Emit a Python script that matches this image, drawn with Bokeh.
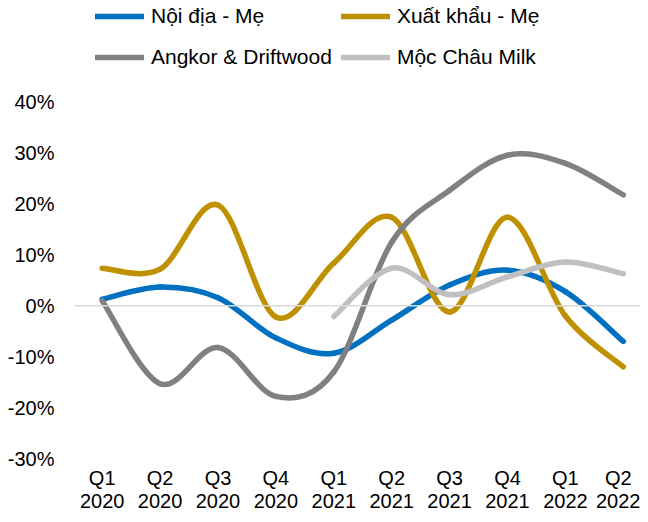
import numpy as np
from bokeh.plotting import figure
from bokeh.models import Legend, LegendItem, FixedTicker, Span, PrintfTickFormatter, ColumnDataSource
from bokeh.embed import file_html
from bokeh.resources import INLINE

# ---- data (percent) ----
quarters = ["Q1\n2020", "Q2\n2020", "Q3\n2020", "Q4\n2020", "Q1\n2021",
            "Q2\n2021", "Q3\n2021", "Q4\n2021", "Q1\n2022", "Q2\n2022"]
noi_dia = [1.3, 3.7, 1.6, -6.3, -9.3, -2.8, 4.1, 7.0, 2.8, -7.0]
xuat_khau = [7.4, 7.2, 19.8, -2.2, 8.4, 17.4, -1.2, 17.4, -2.0, -12.0]
angkor = [1.0, -15.3, -8.2, -17.8, -13.0, 12.5, 22.7, 29.6, 28.0, 21.8]
moc_chau = [None, None, None, None, -2.1, 7.4, 2.2, 5.7, 8.6, 6.3]
y_ticks = [-30, -20, -10, 0, 10, 20, 30, 40]

names = ["Nội địa - Mẹ", "Xuất khẩu - Mẹ", "Angkor & Driftwood", "Mộc Châu Milk"]
colors = ["#0070C0", "#BF9000", "#808080", "#C0C0C0"]
series = [noi_dia, xuat_khau, angkor, moc_chau]

FONT = "Liberation Sans"


def smooth_segments(values):
    """Cubic Bezier segments (Excel-style smoothing) through the data points."""
    pts = [(float(i), float(v)) for i, v in enumerate(values) if v is not None]
    n = len(pts)
    d = dict(x0=[], y0=[], x1=[], y1=[], cx0=[], cy0=[], cx1=[], cy1=[])
    for i in range(n - 1):
        p0 = pts[max(i - 1, 0)]
        p1 = pts[i]
        p2 = pts[i + 1]
        p3 = pts[min(i + 2, n - 1)]
        d["x0"].append(p1[0]); d["y0"].append(p1[1])
        d["x1"].append(p2[0]); d["y1"].append(p2[1])
        d["cx0"].append(p1[0] + (p2[0] - p0[0]) / 6.0)
        d["cy0"].append(p1[1] + (p2[1] - p0[1]) / 6.0)
        d["cx1"].append(p2[0] - (p3[0] - p1[0]) / 6.0)
        d["cy1"].append(p2[1] - (p3[1] - p1[1]) / 6.0)
    return ColumnDataSource(d)


# frame spans the full height so the legend (inside the frame) sits at the top
p = figure(width=640, height=514, output_backend="svg", toolbar_location=None,
           x_range=(-0.478, 9.297), y_range=(-30, 60),
           min_border_left=74, min_border_right=0, min_border_top=0, min_border_bottom=55)
p.outline_line_color = None
p.xgrid.grid_line_color = None
p.ygrid.grid_line_color = None
p.background_fill_color = "white"

# axes
p.xaxis.ticker = FixedTicker(ticks=list(range(len(quarters))))
p.xaxis.major_label_overrides = {i: q for i, q in enumerate(quarters)}
p.yaxis.ticker = FixedTicker(ticks=y_ticks)
p.yaxis.formatter = PrintfTickFormatter(format="%d%%")
for ax in (p.xaxis, p.yaxis):
    ax.axis_line_color = None
    ax.major_tick_line_color = None
    ax.minor_tick_line_color = None
    ax.major_tick_out = 0
    ax.major_label_text_font = FONT
    ax.major_label_text_font_size = "20px"
    ax.major_label_text_color = "#000000"
p.yaxis.major_label_standoff = 20
p.xaxis.major_label_standoff = 8
p.xaxis.major_label_text_line_height = 1.065

p.add_layout(Span(location=0, dimension="width", line_color="#D9D9D9", line_width=1.5))

renderers = []
for name, col, vals in zip(names, colors, series):
    src = smooth_segments(vals)
    r = p.bezier(x0="x0", y0="y0", x1="x1", y1="y1", cx0="cx0", cy0="cy0",
                 cx1="cx1", cy1="cy1", source=src, line_color=col, line_width=5.5,
                 line_cap="round")
    renderers.append(r)

order = [0, 2, 1, 3]
legend = Legend(items=[LegendItem(label=names[i], renderers=[renderers[i]]) for i in order],
                ncols=2, location=(21, 385), glyph_width=49, glyph_height=32,
                label_height=32, label_standoff=7, spacing=9, padding=0, margin=0,
                border_line_color=None, background_fill_alpha=0,
                label_text_font=FONT, label_text_font_size="21px",
                label_text_color="#000000")
p.add_layout(legend)

open("out.html", "w").write(file_html(p, INLINE))
